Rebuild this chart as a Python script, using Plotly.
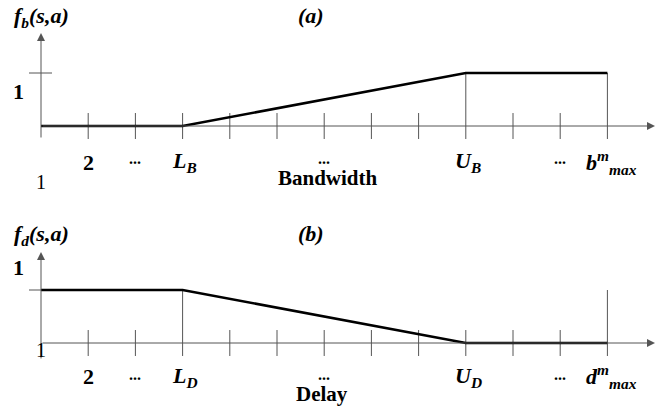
import plotly.graph_objects as go

# ---- data ----
tick_index = list(range(13))
bw_labels = ["2", "...", "<i>L<sub>B</sub></i>", "...", "<i>U<sub>B</sub></i>", "...", "<i>b<sup>m</sup><sub>max</sub></i>"]
bw_label_pos = [1, 2, 3, 6, 9, 11, 12]
dl_labels = ["2", "...", "<i>L<sub>D</sub></i>", "...", "<i>U<sub>D</sub></i>", "...", "<i>d<sup>m</sup><sub>max</sub></i>"]
dl_label_pos = [1, 2, 3, 6, 9, 11, 12]
fb_x = [0, 3, 9, 12]
fb_y = [0, 0, 1, 1]
fd_x = [0, 3, 9, 12]
fd_y = [1, 1, 0, 0]
bw_guides = [9, 12]   # vertical guide lines in (a)
dl_guides = [3, 12]   # vertical guide lines in (b)

FONT = "Liberation Serif"
AX = "#555555"
TH = 0.245  # tick half length (axis units)

fig = go.Figure()

def tick_trace(yref_axis, guides, top):
    xs, ys = [], []
    for i in tick_index[1:]:
        hi = top if i in guides else TH
        xs += [i, i, None]
        ys += [-TH, hi, None]
    return go.Scatter(x=xs, y=ys, mode="lines", line=dict(color=AX, width=1),
                      yaxis=yref_axis, hoverinfo="skip", showlegend=False)

# panel (a)
fig.add_trace(tick_trace("y", bw_guides, 1))
fig.add_trace(go.Scatter(x=[-0.254, 0.233], y=[1, 1], mode="lines", line=dict(color=AX, width=1),
                         yaxis="y", showlegend=False, hoverinfo="skip"))
fig.add_trace(go.Scatter(x=fb_x, y=fb_y, mode="lines", line=dict(color="black", width=2.5),
                         yaxis="y", showlegend=False))
# panel (b)
fig.add_trace(tick_trace("y2", dl_guides, 1))
fig.add_trace(go.Scatter(x=[-0.254, 0], y=[1, 1], mode="lines", line=dict(color=AX, width=1),
                         yaxis="y2", showlegend=False, hoverinfo="skip"))
fig.add_trace(go.Scatter(x=fd_x, y=fd_y, mode="lines", line=dict(color="black", width=2.5),
                         yaxis="y2", showlegend=False))

ann = []
def arrow(x, y, ax, ay, yr):
    ann.append(dict(x=x, y=y, ax=ax, ay=ay, xref="x", yref=yr, axref="x", ayref=yr,
                    showarrow=True, arrowhead=2, arrowsize=1.6, arrowwidth=1, arrowcolor=AX,
                    standoff=0, startstandoff=0, text=""))

arrow(13.008, 0, 0, 0, "y")
arrow(0, 1.755, 0, -TH, "y")
arrow(13.008, 0, 0, 0, "y2")
arrow(0, 1.717, 0, -0.32, "y2")

def txt(x, y, s, yr, size=22, bold=True):
    if bold:
        s = "<b>" + s + "</b>"
    ann.append(dict(x=x, y=y, xref="x", yref=yr, text=s, showarrow=False,
                    font=dict(family=FONT, size=size, color="black"),
                    xanchor="center", yanchor="middle"))

# panel (a) labels
for p, s in zip(bw_label_pos, bw_labels):
    if s == "...":
        txt(p, -0.62, s, "y", size=16, bold=True)
    else:
        txt(p + (0.08 if p == 12 else 0.05 if p in (3, 9) else 0), -0.68, s, "y")
txt(0, -1.057, "1", "y", size=20, bold=False)
txt(-0.487, 0.643, "1", "y")
txt(0.02, 2.057, "<i>f<sub>b</sub>(s,a)</i>", "y")
txt(5.72, 2.094, "<i>(a)</i>", "y")
txt(6.07, -0.981, "Bandwidth", "y", size=21)

# panel (b) labels
for p, s in zip(dl_label_pos, dl_labels):
    if s == "...":
        txt(p, -0.60, s, "y2", size=16, bold=True)
    else:
        txt(p + (0.08 if p == 12 else 0.05 if p in (3, 9) else 0), -0.64, s, "y2")
txt(0, -0.132, "1", "y2", size=20, bold=False)
txt(-0.47, 1.434, "1", "y2")
txt(0.0, 2.038, "<i>f<sub>d</sub>(s,a)</i>", "y2")
txt(5.72, 2.057, "<i>(b)</i>", "y2")
txt(5.95, -0.962, "Delay", "y2", size=21)

fig.update_layout(
    width=672, height=410, autosize=False,
    margin=dict(l=0, r=0, t=0, b=0),
    paper_bgcolor="white", plot_bgcolor="white",
    xaxis=dict(range=[-41 / 47.2, (672 - 41) / 47.2], visible=False, fixedrange=True),
    yaxis=dict(range=[(126 - 410) / 53, 126 / 53], visible=False, domain=[0, 1]),
    yaxis2=dict(range=[(343 - 410) / 53, 343 / 53], visible=False, overlaying="y"),
    annotations=ann,
    showlegend=False,
)

fig.write_html("out.html")
